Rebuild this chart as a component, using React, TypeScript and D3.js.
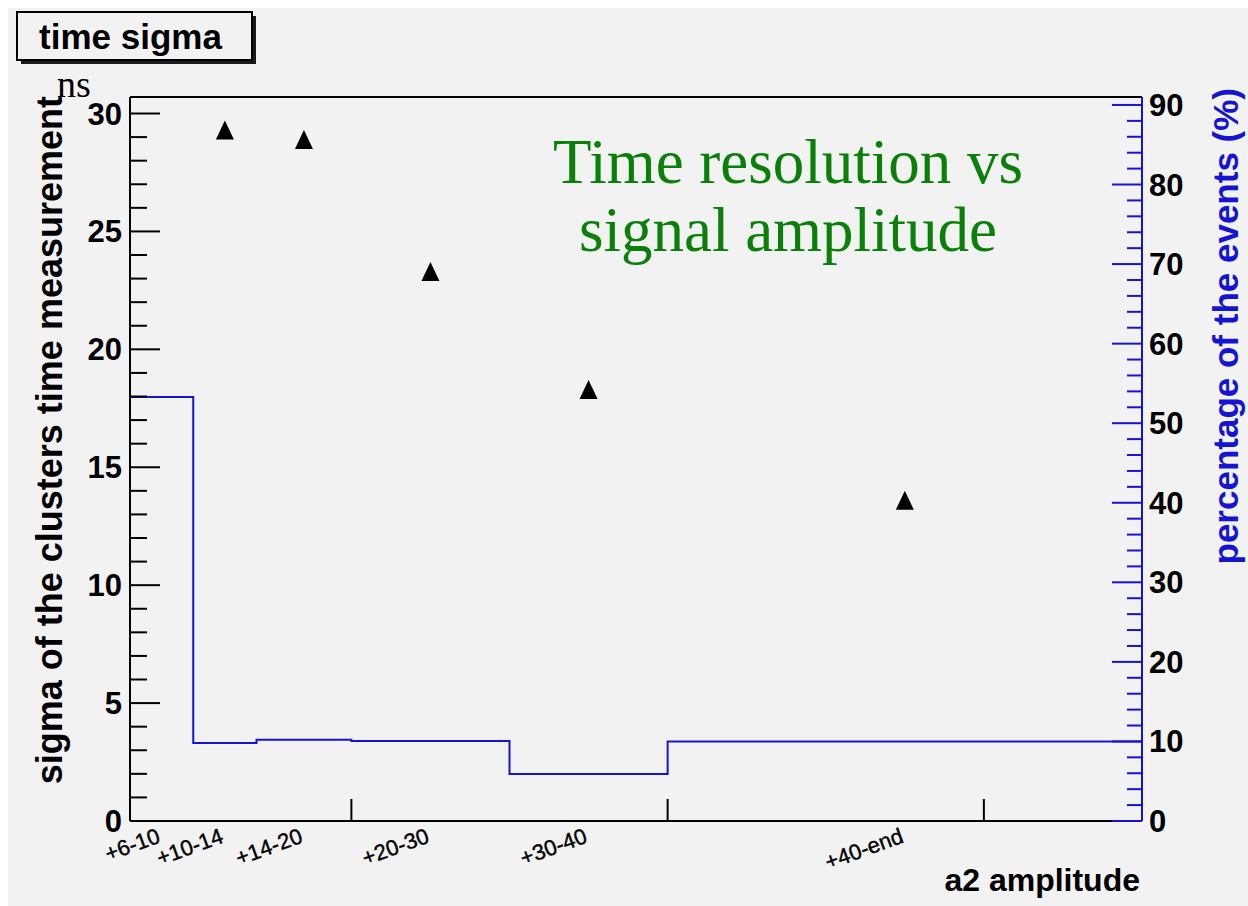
import React from "react";
import * as d3 from "d3";

// ---- data ----
const binEdges = [6, 10, 14, 20, 30, 40, 70];
const binLabels = ["+6-10", "+10-14", "+14-20", "+20-30", "+30-40", "+40-end"];
const eventPercent = [53.3, 9.8, 10.2, 10.05, 5.9, 10.0];
const sigmaX = [12, 17, 25, 35, 55];
const sigmaNs = [29.3, 28.9, 23.3, 18.3, 13.6];
const leftMajorTicks = [0, 5, 10, 15, 20, 25, 30];
const rightMajorTicks = [0, 10, 20, 30, 40, 50, 60, 70, 80, 90];
const xMajorTicks = [20, 40, 60];

const SANS = "'Liberation Sans', Arial, Helvetica, sans-serif";
const SERIF = "'Liberation Serif', 'Times New Roman', serif";
const BLUE = "#1414d2";

const L = 130, R = 1142, T = 97, B = 821;

const x = d3.scaleLinear().domain([6, 70]).range([L, R]);
const yL = d3.scaleLinear().domain([0, 30.7]).range([B, T]);
const yR = d3.scaleLinear().domain([0, 91]).range([B, T]);

const triType = {
  draw(ctx: any, size: number) {
    const w = 18, h = 19;
    ctx.moveTo(0, -h / 2);
    ctx.lineTo(w / 2, h / 2);
    ctx.lineTo(-w / 2, h / 2);
    ctx.closePath();
  },
};
const triPath = d3.symbol().type(triType as any).size(1)() as string;

export default function App() {
  const leftMinor = d3.range(0, 31, 1).filter((v) => v % 5 !== 0);
  const rightMinor = d3.range(0, 91, 2).filter((v) => v % 10 !== 0);

  // histogram step path
  const p = d3.path();
  eventPercent.forEach((v, i) => {
    const x0 = x(binEdges[i]);
    const x1 = x(binEdges[i + 1]);
    if (i === 0) p.moveTo(x0, yR(v));
    else p.lineTo(x0, yR(v));
    p.lineTo(x1, yR(v));
  });
  p.lineTo(x(binEdges[binEdges.length - 1]), yR(0));

  return (
    <svg
      width={1248}
      height={906}
      style={{ position: "absolute", left: 0, top: 0, display: "block" }}
    >
      <rect x={0} y={0} width={1248} height={906} fill="#ffffff" />
      <rect x={8} y={8} width={1240} height={898} fill="#f2f2f2" />

      {/* title box */}
      <rect x={21} y={16} width={235} height={48} fill="#1a1a1a" />
      <rect x={17} y={12} width={235} height={48} fill="#f2f2f2" stroke="#000" strokeWidth={2} />
      <text x={39} y={49} fontFamily={SANS} fontWeight="bold" fontSize={35} fill="#000">
        time sigma
      </text>

      {/* histogram */}
      <path d={p.toString()} fill="none" stroke={BLUE} strokeWidth={2} />

      {/* frame */}
      <line x1={L} x2={R} y1={T} y2={T} stroke="#000" strokeWidth={2} />
      <line x1={L} x2={R} y1={B} y2={B} stroke="#000" strokeWidth={2} />
      <line x1={L} x2={L} y1={T} y2={B} stroke="#000" strokeWidth={2} />

      {/* left axis ticks */}
      {leftMajorTicks.map((v) => (
        <g key={"lm" + v}>
          <line x1={L} x2={L + 30} y1={yL(v)} y2={yL(v)} stroke="#000" strokeWidth={2} />
          <text
            x={122}
            y={yL(v) + 11}
            textAnchor="end"
            fontFamily={SANS}
            fontWeight="bold"
            fontSize={31}
            fill="#000"
          >
            {v}
          </text>
        </g>
      ))}
      {leftMinor.map((v) => (
        <line key={"ln" + v} x1={L} x2={L + 17} y1={yL(v)} y2={yL(v)} stroke="#000" strokeWidth={2} />
      ))}

      {/* right axis */}
      <line x1={R} x2={R} y1={T} y2={B} stroke={BLUE} strokeWidth={2} />
      {rightMajorTicks.map((v) => (
        <g key={"rm" + v}>
          <line x1={R - 30} x2={R} y1={yR(v)} y2={yR(v)} stroke={BLUE} strokeWidth={2} />
          <text
            x={1149}
            y={yR(v) + 11}
            textAnchor="start"
            fontFamily={SANS}
            fontWeight="bold"
            fontSize={31}
            fill="#000"
          >
            {v}
          </text>
        </g>
      ))}
      {rightMinor.map((v) => (
        <line key={"rn" + v} x1={R - 15} x2={R} y1={yR(v)} y2={yR(v)} stroke={BLUE} strokeWidth={2} />
      ))}

      {/* x ticks */}
      {xMajorTicks.map((v) => (
        <line key={"xt" + v} x1={x(v)} x2={x(v)} y1={B} y2={B - 22} stroke="#000" strokeWidth={2} />
      ))}

      {/* bin labels */}
      {binLabels.map((lab, i) => {
        const cx = x((binEdges[i] + binEdges[i + 1]) / 2);
        return (
          <text
            key={lab}
            transform={`translate(${cx},842) rotate(-20)`}
            textAnchor="end"
            fontFamily={SANS}
            fontSize={22}
            fill="#000"
            stroke="#000"
            strokeWidth={0.4}
          >
            {lab}
          </text>
        );
      })}

      {/* markers */}
      {sigmaX.map((v, i) => (
        <path key={"m" + i} d={triPath} transform={`translate(${x(v)},${yL(sigmaNs[i])})`} fill="#000" />
      ))}

      {/* axis titles */}
      <text
        transform="translate(62,96) rotate(-90)"
        textAnchor="end"
        fontFamily={SANS}
        fontWeight="bold"
        fontSize={36}
        fill="#000"
      >
        sigma of the clusters time measurement
      </text>
      <text
        transform="translate(1238,88) rotate(-90)"
        textAnchor="end"
        fontFamily={SANS}
        fontWeight="bold"
        fontSize={35}
        fill={BLUE}
      >
        percentage of the events (%)
      </text>
      <text x={1140} y={891} textAnchor="end" fontFamily={SANS} fontWeight="bold" fontSize={32} fill="#000">
        a2 amplitude
      </text>
      <text x={57} y={97} fontFamily={SERIF} fontSize={38} fill="#000">
        ns
      </text>

      {/* annotation */}
      <text x={788} y={183} textAnchor="middle" fontFamily={SERIF} fontSize={63} fill="#0a800a">
        Time resolution vs
      </text>
      <text x={788} y={251} textAnchor="middle" fontFamily={SERIF} fontSize={63} fill="#0a800a">
        signal amplitude
      </text>
    </svg>
  );
}
